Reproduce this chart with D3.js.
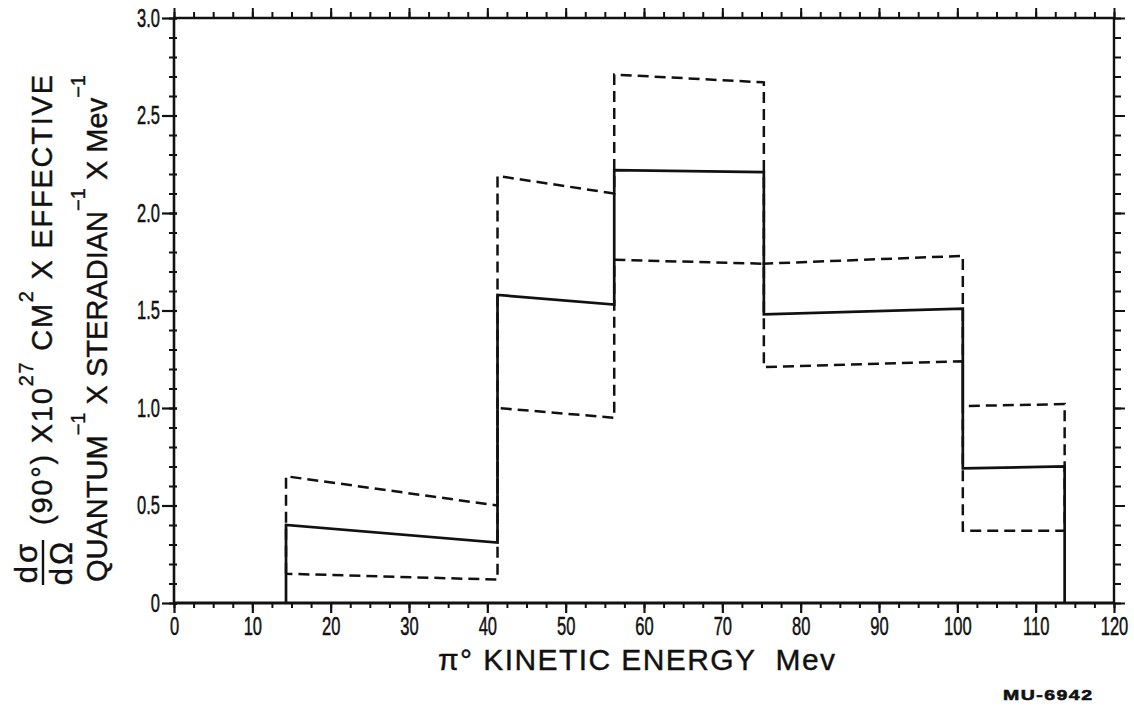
<!DOCTYPE html>
<html>
<head>
<meta charset="utf-8">
<script src="https://cdn.jsdelivr.net/npm/d3@7"></script>
<style>
  html, body { margin: 0; padding: 0; background: #fff; }
  svg { display: block; }
  text { font-family: "Liberation Sans", Arial, Helvetica, sans-serif; fill: #111; }
</style>
</head>
<body>
<svg id="chart" width="1134" height="707"></svg>
<script>
// ---- data ----
const binEdges   = [14.3, 41.3, 56.2, 75.3, 100.7, 113.7];   // MeV
const solidStart = [0.40, 1.58, 2.22, 1.48, 0.69];
const solidEnd   = [0.31, 1.53, 2.21, 1.51, 0.70];
const upperStart = [0.65, 2.19, 2.71, 1.74, 1.01];
const upperEnd   = [0.50, 2.10, 2.67, 1.78, 1.02];
const lowerStart = [0.15, 1.00, 1.76, 1.21, 0.37];
const lowerEnd   = [0.12, 0.95, 1.74, 1.24, 0.37];
const xTickLabels = [0, 10, 20, 30, 40, 50, 60, 70, 80, 90, 100, 110, 120];
const yTickLabels = [0, 0.5, 1.0, 1.5, 2.0, 2.5, 3.0];
const xMinorStep = 2.5;
const yMinorStep = 0.1;

// ---- layout ----
const svg = d3.select("#chart");
const x = d3.scaleLinear().domain([0, 120]).range([174, 1114]);
const y = d3.scaleLinear().domain([0, 3]).range([603, 18]);
const ink = "#111";
const condense = 0.66;

const xMinor = d3.range(0, 120 + 1e-9, xMinorStep);
const yMinor = d3.range(0, 3 + 1e-9, yMinorStep).map(v => +v.toFixed(2));

function clean(g) { g.select(".domain").remove(); g.selectAll("line").attr("stroke", ink); }
function styleLabels(sel) {
  sel.attr("font-size", 25).attr("fill", ink)
    .attr("stroke", ink).attr("stroke-width", 0.5)
    .attr("font-family", "Liberation Sans, Arial, sans-serif");
}

// bottom axis (minor + major with labels)
svg.append("g").attr("transform", `translate(0,${y(0)})`)
  .call(d3.axisBottom(x).tickValues(xMinor).tickSize(5).tickFormat(""))
  .call(clean).selectAll("line").attr("stroke-width", 2);
const xb = svg.append("g").attr("transform", `translate(0,${y(0)})`)
  .call(d3.axisBottom(x).tickValues(xTickLabels).tickSize(10).tickPadding(4).tickFormat(d3.format("d")))
  .call(clean);
xb.selectAll("line").attr("stroke-width", 2.2);
xb.selectAll("text").call(styleLabels).attr("transform", `scale(${condense},1)`);

// top axis ticks
svg.append("g").attr("transform", `translate(0,${y(3)})`)
  .call(d3.axisTop(x).tickValues(xMinor).tickSize(6).tickFormat(""))
  .call(clean).selectAll("line").attr("stroke-width", 2);
svg.append("g").attr("transform", `translate(0,${y(3)})`)
  .call(d3.axisTop(x).tickValues(xTickLabels).tickSize(10).tickFormat(""))
  .call(clean).selectAll("line").attr("stroke-width", 2);

// left axis
svg.append("g").attr("transform", `translate(${x(0)},0)`)
  .call(d3.axisLeft(y).tickValues(yMinor).tickSize(5).tickFormat(""))
  .call(clean).selectAll("line").attr("x1", 3).attr("stroke-width", 2);
const yl = svg.append("g").attr("transform", `translate(${x(0)},0)`)
  .call(d3.axisLeft(y).tickValues(yTickLabels).tickSize(12)
    .tickFormat(d => d === 0 ? "0" : d3.format(".1f")(d)))
  .call(clean);
yl.selectAll("line").attr("x1", 3).attr("stroke-width", 2.2);
yl.selectAll("text").call(styleLabels)
  .attr("x", -14 / condense)
  .attr("transform", `scale(${condense},1)`);

// right axis ticks
svg.append("g").attr("transform", `translate(${x(120)},0)`)
  .call(d3.axisRight(y).tickValues(yMinor).tickSize(7).tickFormat(""))
  .call(clean).selectAll("line").attr("stroke-width", 2);
svg.append("g").attr("transform", `translate(${x(120)},0)`)
  .call(d3.axisRight(y).tickValues(yTickLabels).tickSize(11).tickFormat(""))
  .call(clean).selectAll("line").attr("stroke-width", 2);

// frame
const frame = svg.append("g").attr("stroke", ink).attr("fill", "none");
frame.append("line").attr("x1", x(0) - 1).attr("x2", x(120) + 1).attr("y1", y(3)).attr("y2", y(3)).attr("stroke-width", 2.4);
frame.append("line").attr("x1", x(0) - 1).attr("x2", x(120) + 1).attr("y1", y(0)).attr("y2", y(0)).attr("stroke-width", 3);
frame.append("line").attr("x1", x(0)).attr("x2", x(0)).attr("y1", y(3)).attr("y2", y(0)).attr("stroke-width", 2.6);
frame.append("line").attr("x1", x(120)).attr("x2", x(120)).attr("y1", y(3)).attr("y2", y(0)).attr("stroke-width", 2.4);

// ---- histogram curves ----
const line = d3.line().x(d => x(d[0])).y(d => y(d[1]));

// solid central histogram
const solidPts = [[binEdges[0], 0]];
solidStart.forEach((s, i) => {
  solidPts.push([binEdges[i], s]);
  solidPts.push([binEdges[i + 1], solidEnd[i]]);
});
solidPts.push([binEdges[binEdges.length - 1], 0]);
svg.append("path").attr("d", line(solidPts))
  .attr("fill", "none").attr("stroke", ink).attr("stroke-width", 2.7)
  .attr("stroke-linejoin", "miter");

// dashed error envelope (upper path forward, lower path back)
const n = upperStart.length;
const dashPts = [[binEdges[0], lowerStart[0]]];
upperStart.forEach((s, i) => {
  dashPts.push([binEdges[i], s]);
  dashPts.push([binEdges[i + 1], upperEnd[i]]);
});
for (let i = n - 1; i >= 0; i--) {
  dashPts.push([binEdges[i + 1], lowerEnd[i]]);
  dashPts.push([binEdges[i], lowerStart[i]]);
}
svg.append("path").attr("d", line(dashPts))
  .attr("fill", "none").attr("stroke", ink).attr("stroke-width", 2.5)
  .attr("stroke-dasharray", "11,6");

// ---- y-axis title (rotated) ----
const yt = svg.append("g").attr("transform", "translate(0,587) rotate(-90)")
  .attr("stroke", ink).attr("stroke-width", 0.4);
yt.append("text").attr("x", 25).attr("y", 37).attr("text-anchor", "middle")
  .attr("font-size", 31).attr("letter-spacing", 3).text("dσ");
yt.append("line").attr("x1", 2).attr("x2", 47).attr("y1", 43).attr("y2", 43)
  .attr("stroke", ink).attr("stroke-width", 2.4);
yt.append("text").attr("x", 25).attr("y", 72).attr("text-anchor", "middle")
  .attr("font-size", 31).attr("letter-spacing", 3).text("dΩ");

const t1 = yt.append("text").attr("x", 62).attr("y", 52).attr("font-size", 29)
  .attr("textLength", 450).attr("lengthAdjust", "spacing");
t1.append("tspan").text("(90°) X10");
t1.append("tspan").attr("dy", -19).attr("font-size", 20).text("27");
t1.append("tspan").attr("dy", 19).text(" CM");
t1.append("tspan").attr("dy", -19).attr("font-size", 20).text("2");
t1.append("tspan").attr("dy", 19).text(" X EFFECTIVE");

const t2 = yt.append("text").attr("x", 5).attr("y", 107).attr("font-size", 29)
  .attr("textLength", 507).attr("lengthAdjust", "spacing");
t2.append("tspan").text("QUANTUM");
t2.append("tspan").attr("dy", -22).attr("font-size", 20).text("−1");
t2.append("tspan").attr("dy", 22).text(" X STERADIAN");
t2.append("tspan").attr("dy", -22).attr("font-size", 20).text("−1");
t2.append("tspan").attr("dy", 22).text(" X Mev");
t2.append("tspan").attr("dy", -22).attr("font-size", 20).text("−1");

// ---- x-axis title ----
svg.append("text").attr("x", 438).attr("y", 670).attr("font-size", 30)
  .attr("stroke", ink).attr("stroke-width", 0.4)
  .attr("textLength", 397).attr("lengthAdjust", "spacing")
  .style("white-space", "pre")
  .text("π° KINETIC ENERGY  Mev");

// ---- figure id ----
svg.append("text").attr("x", 1003 / 1.3).attr("y", 700).attr("font-size", 15)
  .attr("font-weight", "bold").attr("stroke", ink).attr("stroke-width", 0.6)
  .attr("transform", "scale(1.3,1)")
  .attr("textLength", 89 / 1.3).attr("lengthAdjust", "spacing")
  .text("MU-6942");
</script>
</body>
</html>
